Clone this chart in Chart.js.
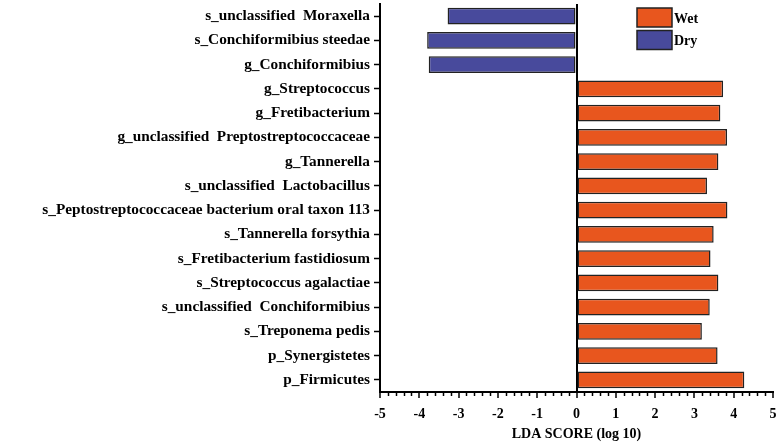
<!DOCTYPE html>
<html>
<head>
<meta charset="utf-8">
<script src="https://cdn.jsdelivr.net/npm/chart.js@4"></script>
<style>
  html, body { margin: 0; padding: 0; background: #fff; }
  #wrap { width: 777px; height: 446px; }
</style>
</head>
<body>
<div id="wrap"><canvas id="chart-lda"></canvas></div>
<script>
const taxa = [
    's_unclassified  Moraxella',
    's_Conchiformibius steedae',
    'g_Conchiformibius',
    'g_Streptococcus',
    'g_Fretibacterium',
    'g_unclassified  Preptostreptococcaceae',
    'g_Tannerella',
    's_unclassified  Lactobacillus',
    's_Peptostreptococcaceae bacterium oral taxon 113',
    's_Tannerella forsythia',
    's_Fretibacterium fastidiosum',
    's_Streptococcus agalactiae',
    's_unclassified  Conchiformibius',
    's_Treponema pedis',
    'p_Synergistetes',
    'p_Firmicutes'
];
const wetScore = [null, null, null, 3.73, 3.66, 3.83, 3.61, 3.32, 3.84, 3.49, 3.41, 3.61, 3.39, 3.19, 3.59, 4.27];
const dryScore = [-3.28, -3.80, -3.76, null, null, null, null, null, null, null, null, null, null, null, null, null];
const xTicks = [-5, -4, -3, -2, -1, 0, 1, 2, 3, 4, 5];

const WET = '#e8561e';
const DRY = '#484a9c';
const SERIF = '"Liberation Serif", "Times New Roman", serif';

// minor ticks on the x axis + the legend boxes at top right
const extras = {
    id: 'extras',
    afterDraw(chart) {
        const c = chart.ctx;
        const x = chart.scales.x;
        const area = chart.chartArea;
        c.save();
        c.strokeStyle = '#000';
        c.lineWidth = 1.5;
        for (let i = 0; i <= 50; i++) {
            if (i % 5 === 0) continue;
            const px = Math.round(x.getPixelForValue(-5 + i * 0.2)) + 0.5;
            c.beginPath();
            c.moveTo(px, area.bottom);
            c.lineTo(px, area.bottom + 4);
            c.stroke();
        }
        const sets = chart.data.datasets;
        const bx = area.right - 136;
        sets.forEach((ds, i) => {
            const by = 8 + i * 22.5;
            c.fillStyle = ds.backgroundColor;
            c.fillRect(bx, by, 35, 19);
            c.lineWidth = 1.5;
            c.strokeStyle = '#222';
            c.strokeRect(bx, by, 35, 19);
            c.fillStyle = '#000';
            c.font = 'bold 14px ' + SERIF;
            c.textBaseline = 'middle';
            c.fillText(ds.label, bx + 37, by + 11);
        });
        c.restore();
    }
};

const ctxLda = document.getElementById('chart-lda').getContext('2d');
const chartLda = new Chart(ctxLda, {
    type: 'bar',
    data: {
        labels: taxa,
        datasets: [
            {
                label: 'Wet',
                data: wetScore,
                backgroundColor: WET,
                borderColor: '#222',
                borderWidth: 1.5,
                borderSkipped: false,
                barPercentage: 0.7,
                categoryPercentage: 1
            },
            {
                label: 'Dry',
                data: dryScore,
                backgroundColor: DRY,
                borderColor: '#222',
                borderWidth: 1.5,
                borderSkipped: false,
                barPercentage: 0.7,
                categoryPercentage: 1
            }
        ]
    },
    options: {
        indexAxis: 'y',
        responsive: true,
        maintainAspectRatio: false,
        animation: false,
        layout: { padding: { top: 4, right: 0, bottom: 0, left: 0 } },
        plugins: {
            legend: { display: false },
            tooltip: { enabled: false }
        },
        scales: {
            x: {
                stacked: true,
                min: -5,
                max: 5,
                afterBuildTicks: (s) => { s.ticks = xTicks.map(v => ({ value: v })); },
                afterFit: (s) => {
                    s.paddingRight = 4;
                    s.height = 54;
                },
                ticks: {
                    color: '#000',
                    padding: 8,
                    font: { family: SERIF, size: 14, weight: 'bold' }
                },
                grid: {
                    color: (c) => (c.tick && c.tick.value === 0 ? '#000' : 'rgba(0,0,0,0)'),
                    lineWidth: 2,
                    tickColor: '#000',
                    tickLength: 6,
                    tickWidth: 1.5
                },
                border: { display: true, color: '#000', width: 2 },
                title: {
                    display: true,
                    text: 'LDA SCORE (log 10)',
                    color: '#000',
                    font: { family: SERIF, size: 14, weight: 'bold' },
                    padding: { top: 4, bottom: 3.5 }
                }
            },
            y: {
                stacked: true,
                afterFit: (s) => {
                    s.width = 380;
                    s.paddingTop = 0;
                    s.paddingBottom = 0;
                },
                ticks: {
                    color: '#000',
                    padding: 4,
                    autoSkip: false,
                    font: { family: SERIF, size: 15.3, weight: 'bold' }
                },
                grid: {
                    offset: false,
                    drawOnChartArea: false,
                    tickColor: '#000',
                    tickLength: 6,
                    tickWidth: 1.5
                },
                border: { display: true, color: '#000', width: 2 }
            }
        }
    },
    plugins: [extras]
});
</script>
</body>
</html>
